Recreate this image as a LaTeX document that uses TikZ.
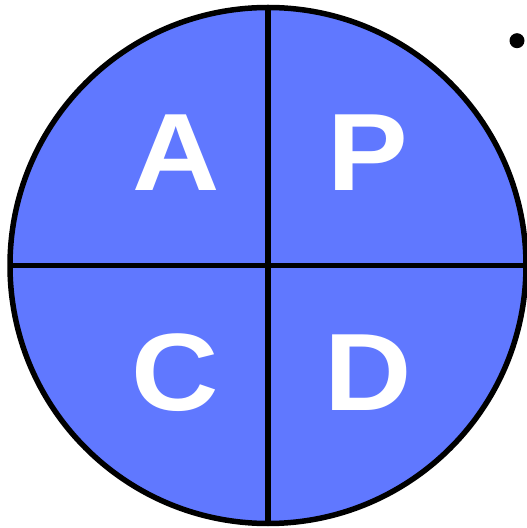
\documentclass[tikz,border=0pt]{standalone}
\usepackage{fontspec}
\setmainfont{Liberation Sans}
\newfontfamily\widefont[FakeStretch=1.1]{Liberation Sans}
\definecolor{fillblue}{RGB}{96,120,255}
\begin{document}
\begin{tikzpicture}[x=1pt,y=1pt,
  letter/.style={inner sep=0pt, anchor=base, text=white, font=\widefont\fontsize{110}{110}\selectfont\bfseries},
  rim/.style={draw=black, line width=5.5pt}]
\useasboundingbox (0,0) rectangle (527,528);
\coordinate (c) at (268,262.5);
\fill[fillblue] (c) circle[radius=258];
\coordinate (top) at (268,4.5+258+258);
\coordinate (bot) at (268,4.5);
\coordinate (lft) at (10,262.5);
\coordinate (rgt) at (526,262.5);
\draw[rim] (top) -- (bot);
\draw[rim] (lft) -- (rgt);
\draw[rim] (c) circle[radius=258];
\node[letter] (A) at (176,337) {A};
\node[letter] (P) at (368,337) {P};
\node[letter] (C) at (175,117) {C};
\node[letter] (D) at (368,117) {D};
\fill[black] (517,487.3) circle[radius=7.5];
\end{tikzpicture}
\end{document}
